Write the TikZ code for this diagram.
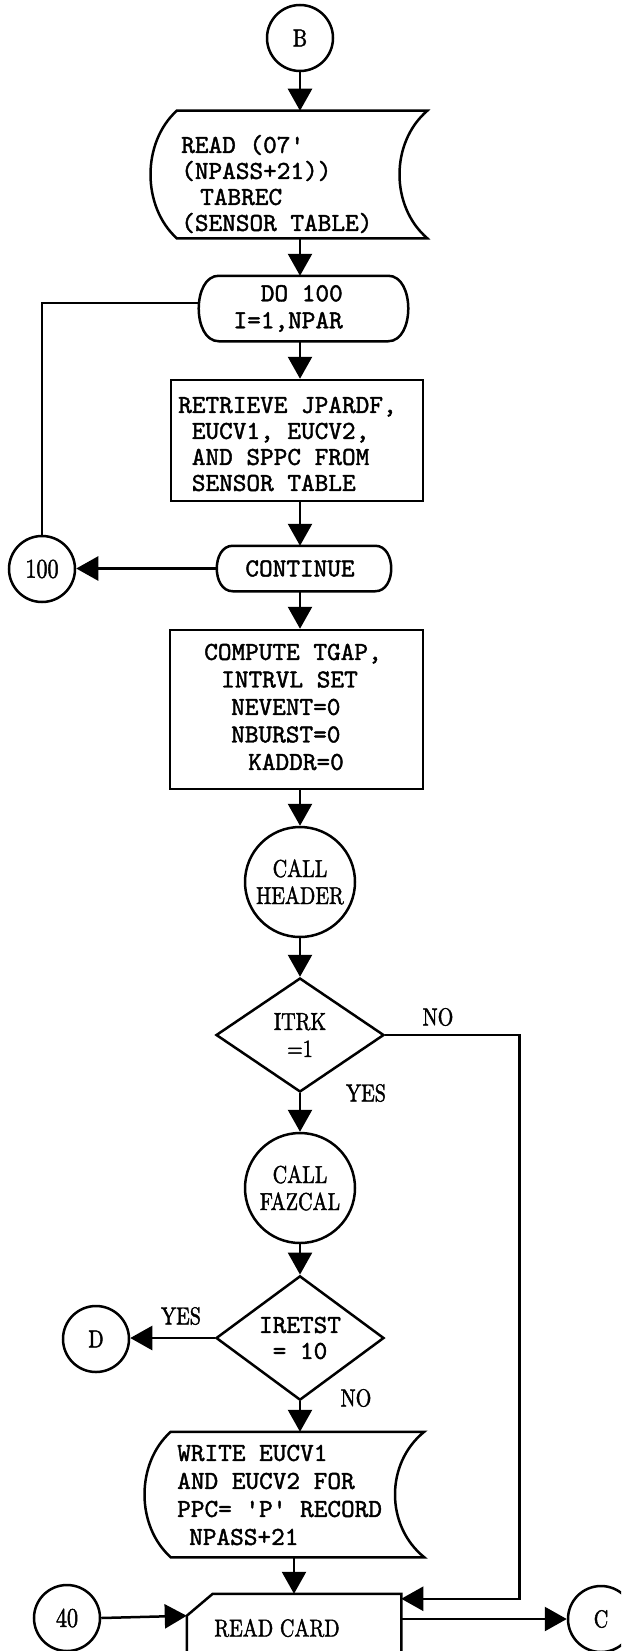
\documentclass[tikz,border=0pt]{standalone}
\usepackage{fontspec}
\newfontfamily\mono{lmmono10-regular.otf}[FakeBold=1.6]
\newfontfamily\labfont{lmroman10-regular.otf}[FakeStretch=0.82,FakeBold=1.6]
\usetikzlibrary{arrows.meta,shapes.geometric,calc}

\begin{document}
\begin{tikzpicture}[x=1pt,y=-1pt,line width=2.5pt,
  ttx/.style={font=\fontsize{26}{26}\selectfont\mono, inner sep=0pt},
  lab/.style={font=\fontsize{24.5}{27}\selectfont\labfont, inner sep=0pt},
  conn/.style={circle, draw, minimum size=66pt, inner sep=0pt, lab},
  proc/.style={rectangle, draw, inner sep=0pt},
  outlinebox/.style={rectangle, inner sep=0pt},
  dec/.style={diamond, draw, minimum width=168pt, minimum height=114pt, inner sep=0pt},
  arr/.style={-{Triangle[length=22pt,width=24pt]}},
]
\fill[white] (0,0) rectangle (621,1651);
\useasboundingbox (0,0) rectangle (621,1651);
\clip (0,0) rectangle (621,1651);

% ---- nodes ----
\node[conn] (b) at (300,38) {B};

\node[outlinebox, minimum width=274pt, minimum height=125pt] (rdtab) at (289,174.5) {};
\node[ttx, align=left, anchor=west] (rdtab-t) at (180,184)
  {READ (07'\\(NPASS+21))\\\hspace*{19pt}TABREC\\(SENSOR TABLE)};

\node[outlinebox, minimum width=207pt, minimum height=63pt] (do) at (303.5,308.5) {};
\node[ttx, align=right, anchor=east, font=\fontsize{26}{27}\selectfont\mono] (do-t) at (344,308.5)
  {DO 100\\I=1,NPAR};

\node[proc, minimum width=252pt, minimum height=121pt] (ret) at (297,440.5) {};
\node[ttx, align=left, anchor=west] (ret-t) at (177,444)
  {RETRIEVE JPARDF,\\\hspace*{13.6pt}EUCV1, EUCV2,\\\hspace*{13.6pt}AND SPPC FROM\\\hspace*{13.6pt}SENSOR TABLE};

\node[outlinebox, ttx, minimum width=172pt, minimum height=43pt] (cont) at (304,568.5) {CONTINUE\hspace*{8pt}};
\node[conn, font=\fontsize{27}{27}\selectfont\labfont] (c100) at (42,569) {100};

\node[proc, minimum width=253pt, minimum height=159pt] (comp) at (296.5,709.5) {};
\node[ttx, align=left, anchor=west, font=\fontsize{26}{27.5}\selectfont\mono] (comp-t) at (203,707)
  {COMPUTE TGAP,\\\hspace*{17pt}INTRVL SET\\\hspace*{27pt}NEVENT=0\\\hspace*{27pt}NBURST=0\\\hspace*{44pt}KADDR=0};

\node[conn, minimum size=110pt, align=center] (hdr) at (300,882) {CALL\\HEADER};

\node[dec, lab, align=center] (itrk) at (300,1035) {ITRK\\=1};
\node[lab] (itrk-no) at (438,1017) {NO};
\node[lab] (itrk-yes) at (366,1093) {YES};

\node[conn, minimum size=110pt, align=center] (faz) at (300,1188) {CALL\\FAZCAL};

\node[dec, ttx, align=center] (iret) at (300,1338) {IRETST\\= 10};
\node[conn] (d) at (96,1339) {D};
\node[lab] (iret-yes) at (181,1316) {YES};
\node[lab] (iret-no) at (356,1398) {NO};

\node[outlinebox, minimum width=277pt, minimum height=123pt] (wr) at (284.5,1494.5) {};
\node[ttx, align=left, anchor=west, font=\fontsize{26}{28}\selectfont\mono] (wr-t) at (176,1495)
  {WRITE EUCV1\\AND EUCV2 FOR\\PPC= 'P' RECORD\\\hspace*{12pt}NPASS+21};

\node[outlinebox, minimum width=212pt, minimum height=105pt] (rc) at (294,1647.5) {};
\node[lab] (rc-t) at (277,1628) {READ CARD};
\coordinate (rccut) at ([yshift=-22pt]rc.north west);

\node[conn, font=\fontsize{27}{27}\selectfont\labfont] (c40) at (67,1618) {40};
\node[conn] (cc) at (601,1619) {C};

% ---- outlines of the special shapes ----
% stored data: convex left side, concave right side
\draw ([xshift=26pt]rdtab.north west) -- (rdtab.north east)
  .. controls ($(rdtab.north east)!.25!(rdtab.south east)+(-37,0)$) and ($(rdtab.north east)!.75!(rdtab.south east)+(-37,0)$) .. (rdtab.south east)
  -- ([xshift=26pt]rdtab.south west)
  .. controls ($(rdtab.south west)!.25!(rdtab.north west)+(-9,0)$) and ($(rdtab.south west)!.75!(rdtab.north west)+(-9,0)$) .. ([xshift=26pt]rdtab.north west) -- cycle;
\draw ([xshift=26pt]wr.north west) -- (wr.north east)
  .. controls ($(wr.north east)!.25!(wr.south east)+(-39,0)$) and ($(wr.north east)!.75!(wr.south east)+(-39,0)$) .. (wr.south east)
  -- ([xshift=26pt]wr.south west)
  .. controls ($(wr.south west)!.25!(wr.north west)+(-9,0)$) and ($(wr.south west)!.75!(wr.north west)+(-9,0)$) .. ([xshift=26pt]wr.north west) -- cycle;
% terminals with rounded ends
\draw ([xshift=20pt]do.north west) -- ([xshift=-20pt]do.north east)
  .. controls ([xshift=6.7pt]do.north east) and ([xshift=6.7pt]do.south east) .. ([xshift=-20pt]do.south east)
  -- ([xshift=20pt]do.south west)
  .. controls ([xshift=-6.7pt]do.south west) and ([xshift=-6.7pt]do.north west) .. ([xshift=20pt]do.north west) -- cycle;
\draw ([xshift=16pt]cont.north west) -- ([xshift=-16pt]cont.north east)
  .. controls ([xshift=5.3pt]cont.north east) and ([xshift=5.3pt]cont.south east) .. ([xshift=-16pt]cont.south east)
  -- ([xshift=16pt]cont.south west)
  .. controls ([xshift=-5.3pt]cont.south west) and ([xshift=-5.3pt]cont.north west) .. ([xshift=16pt]cont.north west) -- cycle;
% card with a cut corner
\draw (rc.south west) -- (rccut) -- ([xshift=26pt]rc.north west) -- (rc.north east) -- (rc.south east) -- cycle;

% ---- connectors ----
\draw[arr] (b.south) -- (b.south |- rdtab.north);
\draw[arr] (b |- rdtab.south) -- (b |- do.north);
\draw[arr] (b |- do.south) -- (b |- ret.north);
\draw[arr] (b |- ret.south) -- (b |- cont.north);
\draw[arr] (b |- cont.south) -- (b |- comp.north);
\draw[arr] (b |- comp.south) -- (hdr.north);
\draw[arr] (hdr.south) -- (itrk.north);
\draw[arr] (itrk.south) -- (faz.north);
\draw[arr] (faz.south) -- (iret.north);
\draw[arr] (iret.south) -- (iret.south |- wr.north);
\draw[arr] (rc.north |- wr.south) -- (rc.north);
\draw (c100.north) |- ([yshift=5.5pt]do.west);
\draw[arr] (cont.west) -- (c100.east |- cont.west);
\draw[arr] (iret.west) -- (d.east |- iret.west);
\draw[arr] (itrk.east) -- ++(134,0) |- ([yshift=-5pt]rc.north east);
\draw[arr] (c40.east) -- (rccut);
\draw[arr] (rc.east |- cc.west) -- (cc.west);
\end{tikzpicture}
\end{document}
